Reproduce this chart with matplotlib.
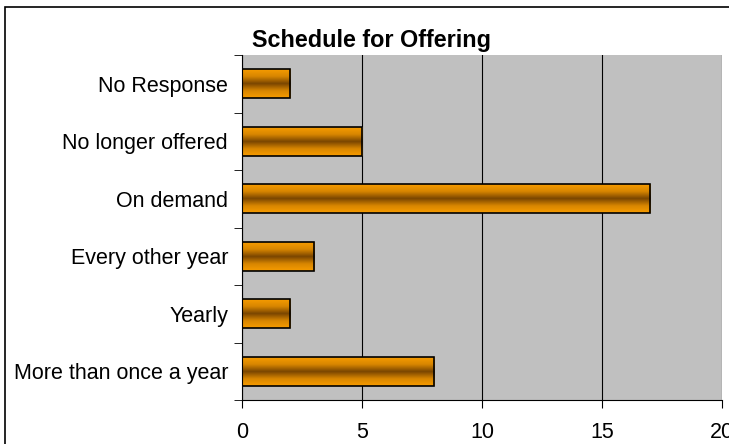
import numpy as np
import matplotlib.pyplot as plt
from matplotlib.colors import LinearSegmentedColormap
from matplotlib.patches import Rectangle

plt.rcParams['font.family'] = ['Liberation Sans', 'DejaVu Sans']

categories = ["More than once a year", "Yearly", "Every other year",
              "On demand", "No longer offered", "No Response"]
counts = [8, 2, 3, 17, 5, 2]
x_ticks = [0, 5, 10, 15, 20]

fig = plt.figure(figsize=(7.29, 4.44), dpi=100)
ax = fig.add_axes([242 / 729, 1 - 400 / 444, 480 / 729, 345 / 444])
ax.set_facecolor('#C0C0C0')

ypos = np.arange(len(categories))
bars = ax.barh(ypos, counts, height=0.5, facecolor='none', edgecolor='black',
               linewidth=1.2, zorder=3)

# orange -> dark brown -> orange across the bar height
cmap = LinearSegmentedColormap.from_list(
    'bar', ['#F79C00', '#D88600', '#7A4600', '#D88600', '#F79C00'])
grad = np.linspace(0, 1, 256).reshape(-1, 1)
for b in bars:
    im = ax.imshow(grad, cmap=cmap, aspect='auto', zorder=2,
                   extent=[b.get_x(), b.get_x() + b.get_width(),
                           b.get_y(), b.get_y() + b.get_height()])
    im.set_clip_path(b)

ax.set_xlim(0, 20)
ax.set_ylim(-0.5, len(categories) - 0.5)
ax.set_xticks(x_ticks)
ax.set_yticks(ypos)
ax.set_yticklabels(categories)
ax.set_yticks(np.arange(-0.5, len(categories)), minor=True)
ax.tick_params(axis='y', which='major', length=0, pad=10, labelsize=15.5)
ax.tick_params(axis='y', which='minor', length=6, direction='out')
ax.tick_params(axis='x', length=6, direction='out', pad=10, labelsize=15.5)
ax.xaxis.grid(True, color='black', linewidth=0.8)
ax.set_axisbelow(True)
for s in ['top', 'right']:
    ax.spines[s].set_visible(False)
ax.spines['left'].set_linewidth(0.8)
ax.spines['bottom'].set_linewidth(0.8)

fig.text(372 / 729, 1 - 40 / 444, "Schedule for Offering", ha='center',
         va='center', fontsize=16.8, fontweight='bold')

fig.patches.append(Rectangle((5 / 729, -0.1), 1.2, 1 - 7 / 444 + 0.1,
                             transform=fig.transFigure, fill=False,
                             edgecolor='black', linewidth=1.2))

fig.savefig('out.png', dpi=100)
